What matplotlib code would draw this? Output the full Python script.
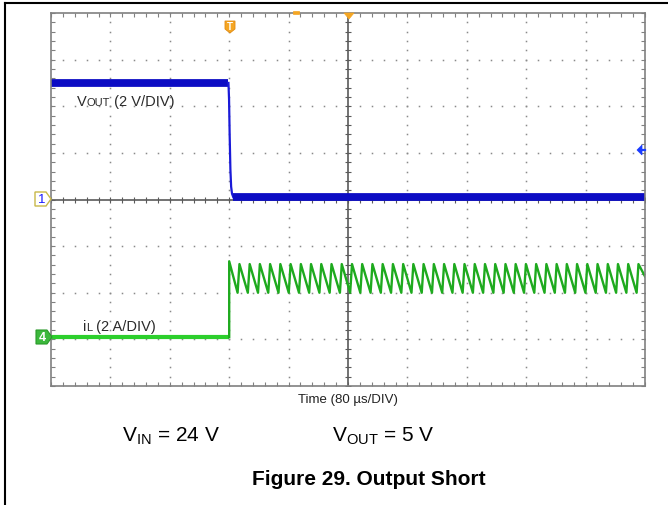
import numpy as np
import matplotlib
matplotlib.use("Agg")
import matplotlib.pyplot as plt
from matplotlib.patches import Polygon
from matplotlib.lines import Line2D
from matplotlib.transforms import IdentityTransform

plt.rcParams['font.family'] = ['Liberation Sans', 'DejaVu Sans']
plt.rcParams['mathtext.fontset'] = 'custom'
plt.rcParams['mathtext.rm'] = 'Liberation Sans'

# --- scope settings ---
t_div = 80.0          # us/DIV
v_div = 2.0           # V/DIV  (ch1)
i_div = 2.0           # A/DIV  (ch4)
ch1_offset = 0.0      # div
ch4_offset = -2.95    # div

# --- ch1: Vout (V) ---
vout_pre_t = [0.0, 239.0]
vout_pre_v = [5.0, 5.0]
vout_edge_t = [239.0, 239.8, 240.6, 241.6, 242.6, 243.8, 245.5]
vout_edge_v = [5.0, 4.3, 2.8, 1.3, 0.55, 0.25, 0.1]
vout_post_t = [245.5, 800.0]
vout_post_v = [0.1, 0.1]

# --- ch4: inductor current (A) ---
il_pre_t = [0.0, 240.0]
il_pre_a = [0.0, 0.0]
il_peak_t = [240.0, 253.8, 267.6, 281.3, 295.1, 308.9, 322.7, 336.5, 350.2, 364.0,
             377.8, 391.6, 405.4, 419.1, 432.9, 446.7, 460.5, 474.3, 488.0, 501.8,
             515.6, 529.4, 543.2, 556.9, 570.7, 584.5, 598.3, 612.1, 625.8, 639.6,
             653.4, 667.2, 681.0, 694.7, 708.5, 722.3, 736.1, 749.9, 763.6, 777.4,
             791.2]
il_peak_a = [3.25] + [3.13] * 40
il_valley_a = [0.0] + [1.9] * 40
il_rise_us = 2.5
il_end_a = 2.6

W, H = 668, 506
fig = plt.figure(figsize=(W / 100, H / 100), dpi=100)
ax_l, ax_r, ax_t, ax_b = 51, 645, 14, 387
ax = fig.add_axes([ax_l / W, 1 - ax_b / H, (ax_r - ax_l) / W, (ax_b - ax_t) / H])
ax.set_xlim(0, 10 * t_div)
ax.set_ylim(-4, 4)

# frame + minor ticks
for s in ax.spines.values():
    s.set_color('#808080')
    s.set_linewidth(1.2)
ax.set_xticks([])
ax.set_yticks([])
ax.set_xticks(np.arange(0, 800.1, t_div / 5), minor=True)
ax.set_yticks(np.arange(-4, 4.01, 0.2), minor=True)
ax.tick_params(which='minor', direction='in', length=3, width=0.8, color='#808080',
               top=True, right=True, labelbottom=False, labelleft=False)

# dotted graticule
gx = np.arange(0, 800.1, t_div / 5)
gy = np.arange(-4, 4.01, 0.2)
for yy in [-3, -2, -1, 1, 2, 3]:
    ax.plot(gx, np.full_like(gx, yy), ls='none', marker='s', ms=1.1, mew=0,
            color='#8a8a8a')
for xx in [80, 160, 240, 320, 480, 560, 640, 720]:
    ax.plot(np.full_like(gy, xx), gy, ls='none', marker='s', ms=1.1, mew=0,
            color='#8a8a8a')
# center crosshair with ticks
ax.axhline(0, color='#5a5a5a', lw=1.2)
ax.axvline(400, color='#5a5a5a', lw=1.2)
ax.plot(gx, np.zeros_like(gx), ls='none', marker='|', ms=5, mew=0.8, color='#5a5a5a')
ax.plot(np.full_like(gy, 400), gy, ls='none', marker='_', ms=5, mew=0.8, color='#5a5a5a')

# Vout trace
def vdiv(v):
    return np.asarray(v) / v_div + ch1_offset

ax.plot(vout_pre_t, vdiv(vout_pre_v), color='#0c0cc4', lw=5.6, solid_capstyle='butt')
ax.plot(vout_edge_t, vdiv(vout_edge_v), color='#1a1ad8', lw=1.6)
ax.plot(vout_post_t, vdiv(vout_post_v), color='#0c0cc4', lw=5.6, solid_capstyle='butt')

# iL trace
def idiv(a):
    return np.asarray(a) / i_div + ch4_offset

ax.plot(il_pre_t, idiv(il_pre_a), color='#2ccf2c', lw=3.0, solid_capstyle='butt')
saw_t, saw_a = [il_pre_t[-1]], [il_pre_a[-1]]
for k, (tp, ap, av) in enumerate(zip(il_peak_t, il_peak_a, il_valley_a)):
    if k > 0:
        saw_t.append(tp - il_rise_us)
        saw_a.append(av)
    saw_t.append(tp)
    saw_a.append(ap)
saw_t.append(800.0)
saw_a.append(il_end_a)
ax.plot(saw_t, idiv(saw_a), color='#1eaa1e', lw=1.7)

# --- scope markers (pixel coords, y from top) ---
def P(pts):
    return [(x, H - y) for x, y in pts]

def poly(pts, fc, ec, lw=1.0):
    fig.add_artist(Polygon(P(pts), closed=True, fc=fc, ec=ec, lw=lw,
                           transform=IdentityTransform()))

def ptext(x, y, s, **kw):
    return fig.text(x, H - y, s, transform=IdentityTransform(), **kw)

# ch1 marker
poly([(35, 193), (46, 193), (51, 200), (46, 207), (35, 207)], 'white', '#c8b84a', 1.0)
ptext(41.5, 200.5, '1', color='#1a1aff', fontsize=9.5, ha='center', va='center')
# ch4 marker
poly([(36, 331), (47, 331), (52, 338), (47, 345), (36, 345)], '#3cb83c', '#2a9a2a', 0.8)
ptext(42, 338.5, '4', color='white', fontsize=9, fontweight='bold', ha='center', va='center')
# trigger position marker
poly([(225, 22), (235, 22), (235, 30), (230, 34), (225, 30)], '#f5a623', '#e08a10', 0.6)
ptext(230, 27.5, 'T', color='white', fontsize=7, fontweight='bold', ha='center', va='center')
# center delay marker + small bar
poly([(344, 14), (354, 14), (349, 20)], '#f5a623', '#f5a623', 0.5)
poly([(293, 12), (299, 12), (299, 14.5), (293, 14.5)], '#f5a623', '#f5a623', 0.5)
# trigger level arrow
poly([(637, 151), (642, 146), (642, 156)], '#1a3cff', '#1a3cff', 0.5)
fig.add_artist(Line2D([640, 645], [H - 151, H - 151], color='#1a3cff', lw=1.6,
                      transform=IdentityTransform()))

# --- labels ---
def put_parts(x, y, parts, **kw):
    r = fig.canvas.get_renderer()
    for s, fs in parts:
        t = ptext(x, y, s, fontsize=fs, va='baseline', ha='left', **kw)
        x = t.get_window_extent(r).x1

put_parts(77, 106, [('V', 10.5), ('OUT', 8), (' (2 V/DIV)', 10.5)], color='#2a2a2a')
put_parts(83, 331, [('i', 10.5), ('L', 8), (' (2 A/DIV)', 10.5)], color='#2a2a2a')
ptext(348, 403, 'Time (80 \u00b5s/DIV)', fontsize=9.5, ha='center', va='baseline',
      color='#222222')

ptext(122, 441, r'V$_{\mathrm{IN}}$ = 24 V', fontsize=15, ha='left', va='baseline')
ptext(332, 441, r'V$_{\mathrm{OUT}}$ = 5 V', fontsize=15, ha='left', va='baseline')
ptext(369, 485, 'Figure 29. Output Short', fontsize=15, fontweight='bold',
      ha='center', va='baseline')

# outer page frame
fig.add_artist(Line2D([5, W], [H - 4, H - 4], color='black', lw=1.5,
                      transform=IdentityTransform()))
fig.add_artist(Line2D([5, 5], [H - 4, 0], color='black', lw=1.5,
                      transform=IdentityTransform()))

fig.savefig('out.png', dpi=100)
